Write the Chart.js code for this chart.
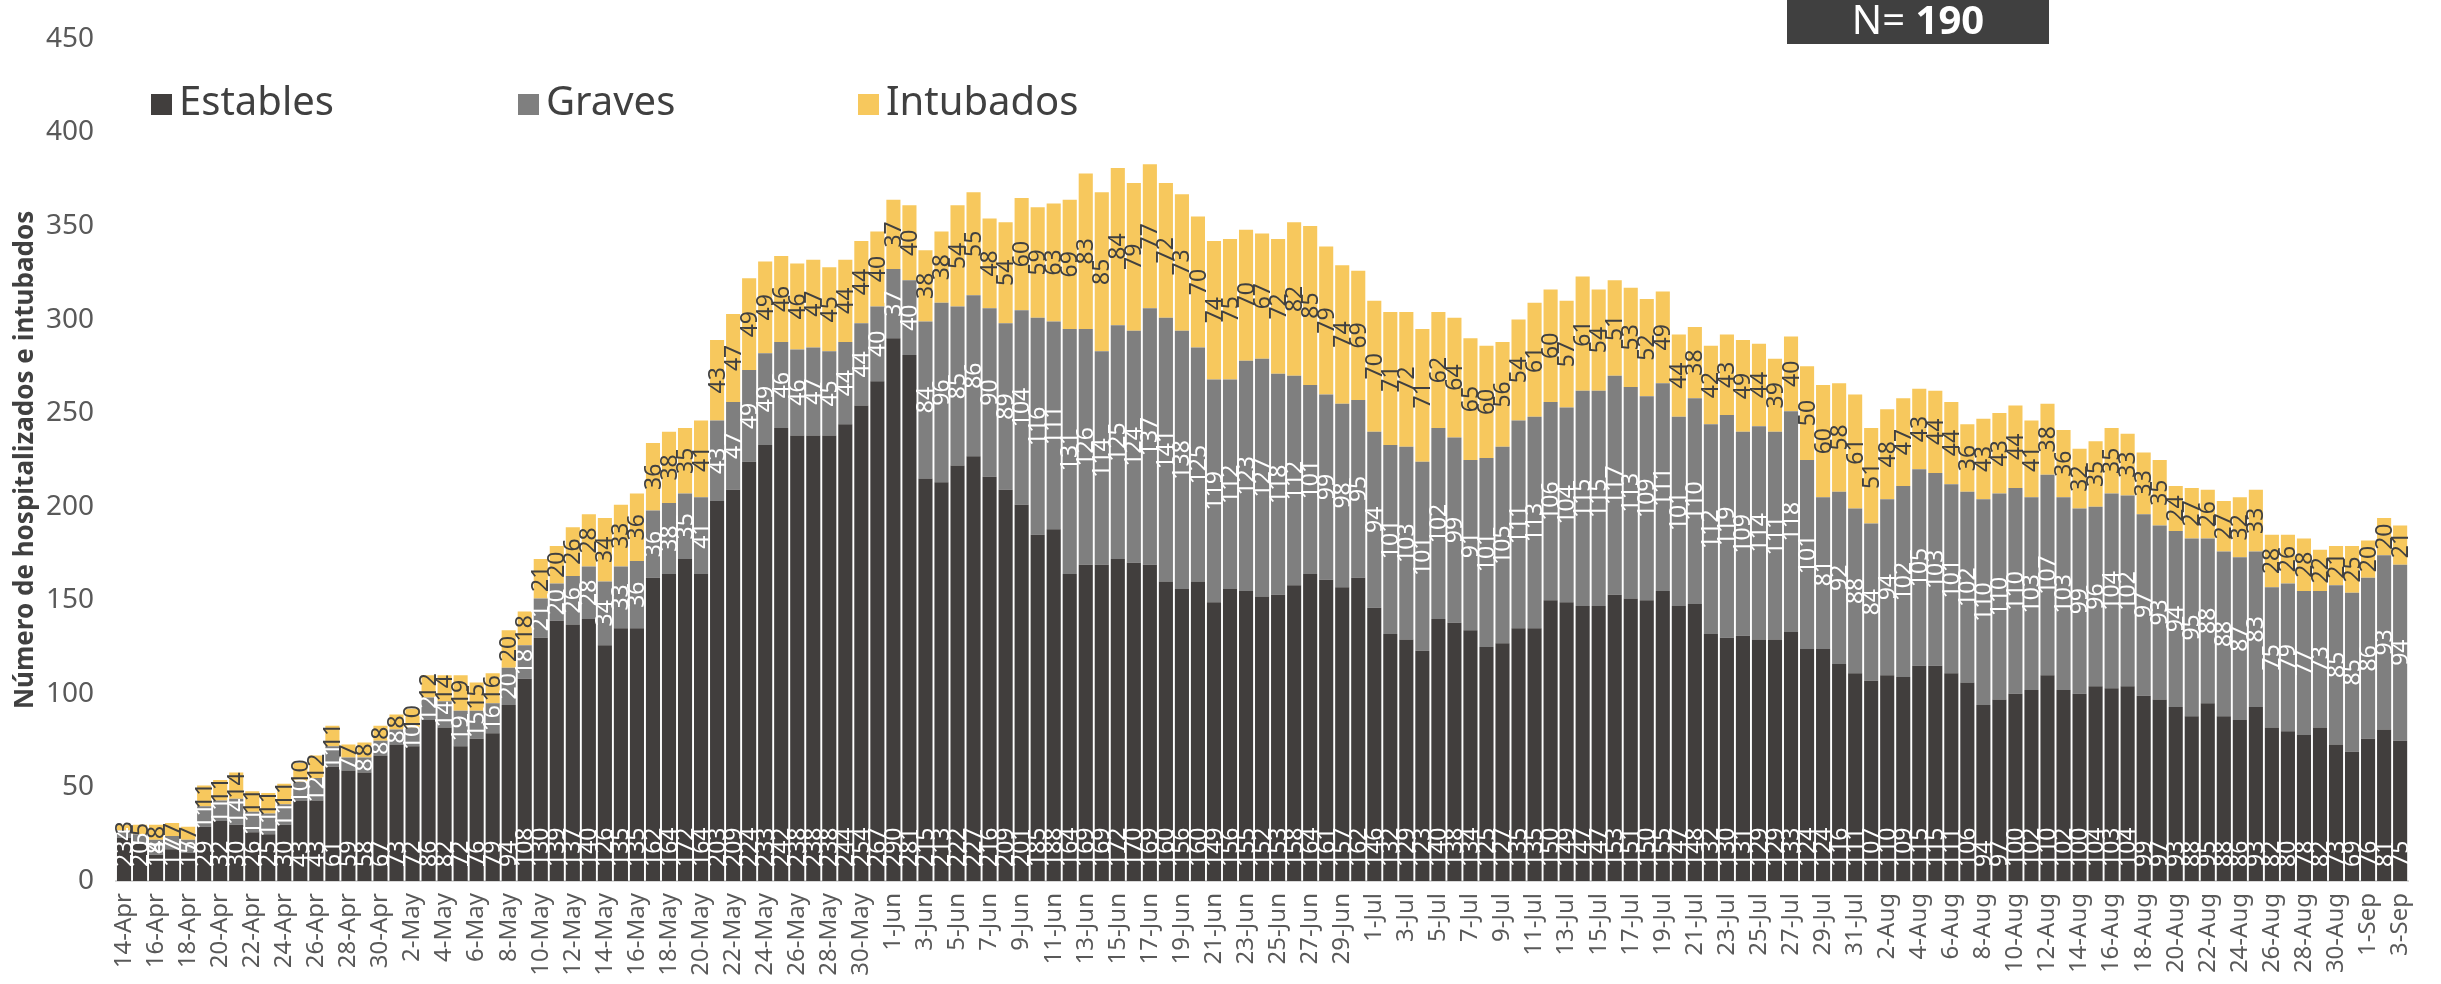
<!DOCTYPE html>
<html>
<head>
<meta charset="utf-8">
<script src="https://cdn.jsdelivr.net/npm/chart.js@4.4.1/dist/chart.umd.min.js"></script>
<style>
  html, body { margin: 0; padding: 0; background: #fff; }
  #wrap { width: 2441px; height: 984px; position: relative; }
</style>
</head>
<body>
<div id="wrap"><canvas id="chart"></canvas></div>
<script>
// categories: one bar per day, 14-Apr .. 3-Sep
const months = [['Apr', 14, 30], ['May', 1, 31], ['Jun', 1, 30], ['Jul', 1, 31], ['Aug', 1, 31], ['Sep', 1, 3]];
const days = [];
for (const [m, from, to] of months) {
    for (let d = from; d <= to; d++) days.push(d + '-' + m);
}

const estables = [
    23, 20, 14, 17, 15, 29, 32, 30, 26, 25, 30, 43,
    43, 61, 59, 58, 67, 73, 72, 86, 82, 72, 76, 79,
    94, 108, 130, 139, 137, 140, 126, 135, 135, 162, 164, 172,
    164, 203, 209, 224, 233, 242, 238, 238, 238, 244, 254, 267,
    290, 281, 215, 213, 222, 227, 216, 209, 201, 185, 188, 164,
    169, 169, 172, 170, 169, 160, 156, 160, 149, 156, 155, 152,
    153, 158, 164, 161, 157, 162, 146, 132, 129, 123, 140, 138,
    134, 125, 127, 135, 135, 150, 149, 147, 147, 153, 151, 150,
    155, 147, 148, 132, 130, 131, 129, 129, 133, 124, 124, 116,
    111, 107, 110, 109, 115, 115, 111, 106, 94, 97, 100, 102,
    110, 102, 100, 104, 103, 104, 99, 97, 93, 88, 95, 88,
    86, 93, 82, 80, 78, 82, 73, 69, 76, 81, 75
];
const graves = [
    4, 5, 8, 7, 7, 11, 11, 14, 11, 11, 11, 10,
    12, 11, 7, 8, 8, 8, 10, 12, 14, 19, 15, 16,
    20, 18, 21, 20, 26, 28, 34, 33, 36, 36, 38, 35,
    41, 43, 47, 49, 49, 46, 46, 47, 45, 44, 44, 40,
    37, 40, 84, 96, 85, 86, 90, 89, 104, 116, 111, 131,
    126, 114, 125, 124, 137, 141, 138, 125, 119, 112, 123, 127,
    118, 112, 101, 99, 98, 95, 94, 101, 103, 101, 102, 99,
    91, 101, 105, 111, 113, 106, 104, 115, 115, 117, 113, 109,
    111, 101, 110, 112, 119, 109, 114, 111, 118, 101, 81, 92,
    88, 84, 94, 102, 105, 103, 101, 102, 110, 110, 110, 103,
    107, 103, 99, 96, 104, 102, 97, 93, 94, 95, 88, 88,
    87, 83, 75, 79, 77, 73, 85, 85, 86, 93, 94
];
const intubados = [
    3, 5, 8, 7, 7, 11, 11, 14, 11, 11, 11, 10,
    12, 11, 7, 8, 8, 8, 10, 12, 14, 19, 15, 16,
    20, 18, 21, 20, 26, 28, 34, 33, 36, 36, 38, 35,
    41, 43, 47, 49, 49, 46, 46, 47, 45, 44, 44, 40,
    37, 40, 38, 38, 54, 55, 48, 54, 60, 59, 63, 69,
    83, 85, 84, 79, 77, 72, 73, 70, 74, 75, 70, 67,
    72, 82, 85, 79, 74, 69, 70, 71, 72, 71, 62, 64,
    65, 60, 56, 54, 61, 60, 57, 61, 54, 51, 53, 52,
    49, 44, 38, 42, 43, 49, 44, 39, 40, 50, 60, 58,
    61, 51, 48, 47, 43, 44, 44, 36, 43, 43, 44, 41,
    38, 36, 32, 35, 35, 33, 33, 35, 24, 27, 26, 27,
    32, 33, 28, 26, 28, 22, 21, 25, 20, 20, 21
];
const yTicks = [0, 50, 100, 150, 200, 250, 300, 350, 400, 450];
const seriesNames = ['Estables', 'Graves', 'Intubados'];
const totalLabel = '190';

const colors = ['#413e3d', '#7f7f7f', '#f7c85d'];
const labelColors = ['#ffffff', '#ffffff', '#404040'];
const FONT = '"Noto Sans", "Open Sans", sans-serif';

// rotated value labels inside each segment
const barLabels = {
    id: 'barLabels',
    afterDatasetsDraw(chart) {
        const ctx = chart.ctx;
        ctx.save();
        ctx.font = '23px ' + FONT;
        ctx.textBaseline = 'middle';
        chart.data.datasets.forEach((ds, di) => {
            const meta = chart.getDatasetMeta(di);
            meta.data.forEach((bar, i) => {
                const v = ds.data[i];
                if (!v) return;
                const { x, y, base } = bar.getProps(['x', 'y', 'base'], true);
                ctx.save();
                ctx.fillStyle = labelColors[di];
                if (di === 0) {
                    ctx.translate(x, base - 14);
                    ctx.textAlign = 'left';
                } else {
                    ctx.translate(x, (y + base) / 2);
                    ctx.textAlign = 'center';
                }
                ctx.rotate(-Math.PI / 2);
                ctx.fillText(String(v), 0, 1);
                ctx.restore();
            });
        });
        ctx.restore();
    }
};

// legend spread across the top and the N box
const decorations = {
    id: 'decorations',
    afterDraw(chart) {
        const ctx = chart.ctx;
        ctx.save();
        const legendX = [151, 518, 858];
        ctx.font = '40px ' + FONT;
        ctx.textBaseline = 'middle';
        ctx.textAlign = 'left';
        seriesNames.forEach((name, i) => {
            ctx.fillStyle = colors[i];
            ctx.fillRect(legendX[i], 94, 21, 21);
            ctx.fillStyle = '#404040';
            ctx.fillText(name, legendX[i] + 28, 104);
        });

        ctx.fillStyle = '#404040';
        ctx.fillRect(1787, 0, 262, 44);
        ctx.fillStyle = '#ffffff';
        const a = 'N= ';
        ctx.font = 'bold 40px ' + FONT;
        const wb = ctx.measureText(totalLabel).width;
        ctx.font = '40px ' + FONT;
        const wa = ctx.measureText(a).width;
        const sx = 1918 - (wa + wb) / 2;
        ctx.fillText(a, sx, 23);
        ctx.font = 'bold 40px ' + FONT;
        ctx.fillText(totalLabel, sx + wa, 23);
        ctx.restore();
    }
};

const ctx = document.getElementById('chart');

new Chart(ctx, {
    type: 'bar',
    data: {
        labels: days,
        datasets: [
            { label: seriesNames[0], data: estables, backgroundColor: colors[0] },
            { label: seriesNames[1], data: graves, backgroundColor: colors[1] },
            { label: seriesNames[2], data: intubados, backgroundColor: colors[2] }
        ]
    },
    plugins: [barLabels, decorations],
    options: {
        responsive: true,
        maintainAspectRatio: false,
        animation: false,
        layout: {
            padding: { top: 16, right: 20, bottom: 0, left: 0 }
        },
        datasets: {
            bar: { barPercentage: 0.88, categoryPercentage: 1.0 }
        },
        scales: {
            x: {
                stacked: true,
                grid: { display: false, drawTicks: false },
                border: { display: true, color: '#d9d9d9', width: 2 },
                ticks: {
                    autoSkip: false,
                    maxRotation: 90,
                    minRotation: 90,
                    padding: 12,
                    color: '#595959',
                    font: { family: FONT, size: 24 },
                    callback: function (val, idx) {
                        return idx % 2 === 0 ? days[idx] : '';
                    }
                },
                afterFit(scale) { scale.height = 103; }
            },
            y: {
                stacked: true,
                min: 0,
                max: 450,
                grid: { display: false, drawTicks: false },
                border: { display: false },
                afterBuildTicks(scale) {
                    scale.ticks = yTicks.map(v => ({ value: v }));
                },
                ticks: {
                    padding: 22,
                    color: '#595959',
                    font: { family: FONT, size: 28 }
                },
                title: {
                    display: true,
                    text: 'Número de hospitalizados e intubados',
                    color: '#404040',
                    font: { family: FONT, size: 26, weight: 'bold' },
                    padding: { top: 10, bottom: 0 }
                },
                afterFit(scale) { scale.width = 116; }
            }
        },
        plugins: {
            legend: { display: false },
            tooltip: { enabled: false }
        }
    }
});
</script>
</body>
</html>
